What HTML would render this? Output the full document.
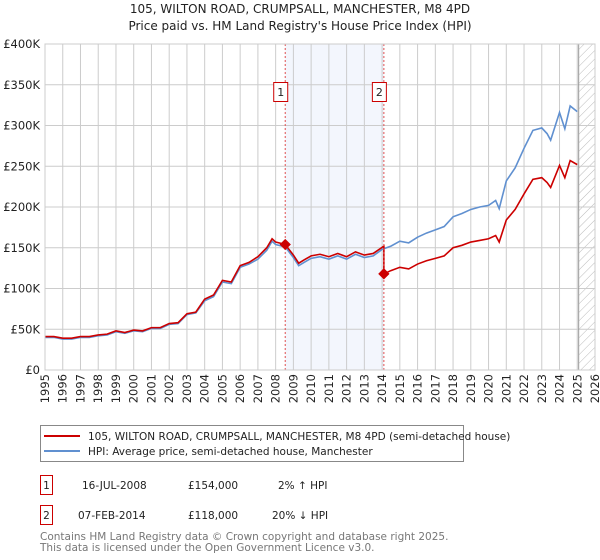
<!DOCTYPE html>
<html><head><meta charset="utf-8"><style>
body{margin:0;background:#fff;font-family:"DejaVu Sans","Liberation Sans",sans-serif;}
svg{display:block}
</style></head><body>
<svg id="chart" width="600" height="560" viewBox="0 0 600 560" font-family="DejaVu Sans, Liberation Sans, sans-serif">
<defs><pattern id="hatch" patternUnits="userSpaceOnUse" width="6" height="6" patternTransform="rotate(45)"><line x1="0" y1="0" x2="0" y2="6" stroke="#bbb" stroke-width="1"/></pattern></defs>
<text x="300" y="13" text-anchor="middle" font-size="12" fill="#222">105, WILTON ROAD, CRUMPSALL, MANCHESTER, M8 4PD</text>
<text x="300" y="30" text-anchor="middle" font-size="12" fill="#222">Price paid vs. HM Land Registry's House Price Index (HPI)</text>
<g id="plot"></g>
<g>
<rect x="40.5" y="425.5" width="423" height="36" fill="#fff" stroke="#888"/>
<line x1="44" y1="436" x2="80" y2="436" stroke="#cc0000" stroke-width="2"/>
<text x="88" y="440" font-size="10.5" fill="#222">105, WILTON ROAD, CRUMPSALL, MANCHESTER, M8 4PD (semi-detached house)</text>
<line x1="44" y1="451" x2="80" y2="451" stroke="#6090d0" stroke-width="2"/>
<text x="88" y="455" font-size="10.5" fill="#222">HPI: Average price, semi-detached house, Manchester</text>
</g>
<g font-size="10.5" fill="#222">
<rect x="40.5" y="475.5" width="12" height="19" fill="#fff" stroke="#cc0000"/>
<text x="46.5" y="489" text-anchor="middle">1</text>
<text x="82" y="489">16-JUL-2008</text><text x="188" y="489">£154,000</text><text x="278" y="489">2% ↑ HPI</text>
</g>
<g font-size="10.5" fill="#222">
<rect x="40.5" y="505.5" width="12" height="19" fill="#fff" stroke="#cc0000"/>
<text x="46.5" y="519" text-anchor="middle">2</text>
<text x="78" y="519">07-FEB-2014</text><text x="188" y="519">£118,000</text><text x="272" y="519">20% ↓ HPI</text>
</g>
<text x="40" y="540" font-size="10.5" fill="#777">Contains HM Land Registry data © Crown copyright and database right 2025.</text>
<text x="40" y="551" font-size="10.5" fill="#777">This data is licensed under the Open Government Licence v3.0.</text>
</svg>
<script>
const hpiDates=[1995,1995.5,1996,1996.5,1997,1997.5,1998,1998.5,1999,1999.5,2000,2000.5,2001,2001.5,2002,2002.5,2003,2003.5,2004,2004.5,2005,2005.5,2006,2006.5,2007,2007.5,2007.8,2008,2008.54,2009,2009.3,2009.6,2010,2010.5,2011,2011.5,2012,2012.5,2013,2013.5,2014,2014.5,2015,2015.5,2016,2016.5,2017,2017.5,2018,2018.5,2019,2019.5,2020,2020.4,2020.6,2021,2021.5,2022,2022.5,2023,2023.3,2023.5,2024,2024.3,2024.6,2025];
const hpiValues=[40,40,38,38,40,40,42,43,47,45,48,47,51,51,56,57,68,70,85,90,108,106,126,130,136,147,158,154,151,138,128,132,137,139,136,140,136,142,138,140,148,152,158,156,163,168,172,176,188,192,197,200,202,208,198,232,248,272,294,297,290,282,316,296,324,317];
const priceDates=[1995,1995.5,1996,1996.5,1997,1997.5,1998,1998.5,1999,1999.5,2000,2000.5,2001,2001.5,2002,2002.5,2003,2003.5,2004,2004.5,2005,2005.5,2006,2006.5,2007,2007.5,2007.8,2008,2008.54,2009,2009.3,2009.6,2010,2010.5,2011,2011.5,2012,2012.5,2013,2013.5,2014.1,2014.1,2014.5,2015,2015.5,2016,2016.5,2017,2017.5,2018,2018.5,2019,2019.5,2020,2020.4,2020.6,2021,2021.5,2022,2022.5,2023,2023.3,2023.5,2024,2024.3,2024.6,2025];
const priceValues=[41,41,39,39,41,41,43,44,48,46,49,48,52,52,57,58,69,71,87,92,110,108,128,132,139,150,161,157,154,141,131,135,140,142,139,143,139,145,141,143,152,118,122,126,124,130,134,137,140,150,153,157,159,161,165,157,184,197,216,234,236,230,224,251,236,257,252];
const saleDates=[2008.54,2014.1];
const saleValues=[154,118];
const saleLabels=["1","2"];
const yTicks=[0,50,100,150,200,250,300,350,400];
const yTickLabels=["£0","£50K","£100K","£150K","£200K","£250K","£300K","£350K","£400K"];
const xTicks=[1995,1996,1997,1998,1999,2000,2001,2002,2003,2004,2005,2006,2007,2008,2009,2010,2011,2012,2013,2014,2015,2016,2017,2018,2019,2020,2021,2022,2023,2024,2025,2026];
const dataEnd=2025.08;
const X0=45,X1=595,Y0=370,Y1=44;
const xs=d=>X0+(d-1995)/(2026-1995)*(X1-X0);
const ys=v=>Y0-v/400*(Y0-Y1);
const NS="http://www.w3.org/2000/svg";
const g=document.getElementById('plot');
function mk(t,a,p){const e=document.createElementNS(NS,t);for(const k in a)e.setAttribute(k,a[k]);(p||g).appendChild(e);return e;}
let sh=mk('rect',{x:xs(saleDates[0]),y:Y1,width:xs(saleDates[1])-xs(saleDates[0]),height:Y0-Y1,fill:'#f3f6fd'});


let ht=mk('rect',{x:xs(dataEnd),y:Y1,width:X1-xs(dataEnd),height:Y0-Y1,fill:'url(#hatch)'});


yTicks.forEach((v,i)=>{
 mk('line',{x1:X0,x2:X1,y1:ys(v),y2:ys(v),stroke:'#ccc','stroke-width':1});
 const t=mk('text',{x:X0-5,y:ys(v)+4,'text-anchor':'end','font-size':11.5,fill:'#222'});t.textContent=yTickLabels[i];
 
 
});
xTicks.forEach(d=>{
 mk('line',{x1:xs(d),x2:xs(d),y1:Y1,y2:Y0,stroke:'#ccc','stroke-width':1});
 const t=mk('text',{transform:`translate(${xs(d)+4},${Y0+4}) rotate(-90)`,'text-anchor':'end','font-size':11.5,fill:'#222'});t.textContent=d;
 
 
});
mk('line',{x1:xs(dataEnd),x2:xs(dataEnd),y1:Y1,y2:Y0,stroke:'#999','stroke-width':1});
let hp=mk('polyline',{points:hpiDates.map((d,i)=>xs(d)+','+ys(hpiValues[i])).join(' '),fill:'none',stroke:'#6090d0','stroke-width':1.6});


let pl=mk('polyline',{points:priceDates.map((d,i)=>xs(d)+','+ys(priceValues[i])).join(' '),fill:'none',stroke:'#cc0000','stroke-width':1.6});


saleDates.forEach((d,i)=>{
 mk('line',{x1:xs(d),x2:xs(d),y1:Y1,y2:Y0,stroke:'#e05050','stroke-width':1,'stroke-dasharray':'2,2'});
 const m=mk('rect',{x:xs(d)-4,y:ys(saleValues[i])-4,width:8,height:8,fill:'#cc0000',transform:`rotate(45 ${xs(d)} ${ys(saleValues[i])})`});
 
 
 const b=mk('rect',{x:xs(d)-11.5,y:82.5,width:14,height:19,fill:'#fff',stroke:'#cc0000'});
 
 
 const t=mk('text',{x:xs(d)-4.5,y:96,'text-anchor':'middle','font-size':11,fill:'#222'});t.textContent=saleLabels[i];
});
mk('rect',{x:X0,y:Y1,width:X1-X0,height:Y0-Y1,fill:'none',stroke:'#ccc'});
</script>
</body></html>
